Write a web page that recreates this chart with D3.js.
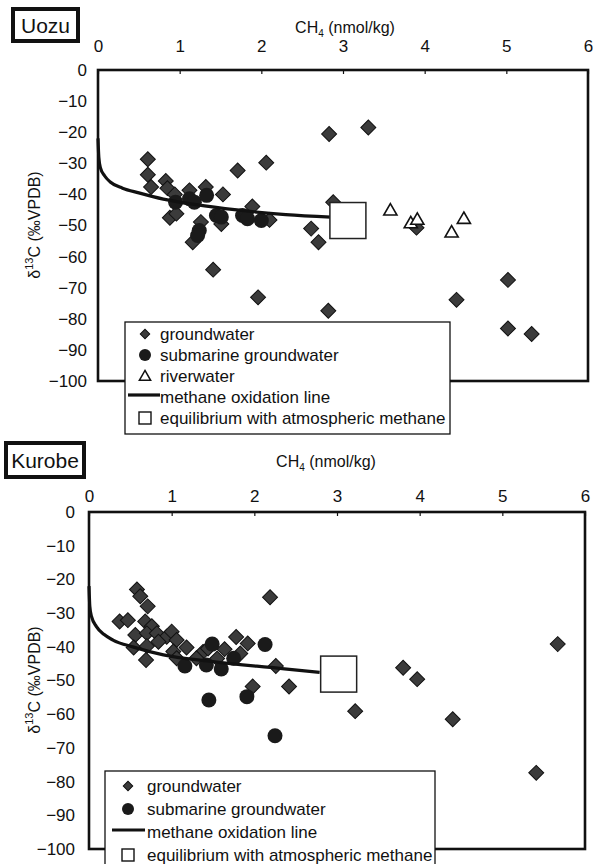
<!DOCTYPE html>
<html><head><meta charset="utf-8">
<script src="https://cdn.jsdelivr.net/npm/d3@7"></script>
<style>
body{margin:0;background:#fff;}
text{font-family:"Liberation Sans",Arial,sans-serif;fill:#111;}
</style></head>
<body>
<svg id="chart" width="593" height="864"></svg>
<script>
// ---------- DATA ----------
const xTicks = [0,1,2,3,4,5,6];
const yTicks = [0,-10,-20,-30,-40,-50,-60,-70,-80,-90,-100];

// Uozu
const uozuGroundwater = [
  [0.61,-28.7],[0.61,-33.7],[0.83,-35.7],[0.65,-37.6],[0.85,-38],[0.94,-40],[1.12,-38.7],[1.32,-37.6],
  [1.53,-40],[1.71,-32.3],[2.06,-29.8],[2.83,-20.6],[3.31,-18.5],[0.88,-47.5],[0.96,-46.2],[1.26,-48.9],
  [1.51,-49.5],[1.16,-55.4],[1.89,-43.9],[2.10,-48.2],[2.61,-51],[2.70,-55.4],[1.41,-64.2],[1.96,-73.1],
  [2.82,-77.4],[2.88,-42.5],[3.9,-50.7],[5.02,-67.5],[4.39,-73.9],[5.02,-83.1],[5.31,-84.9]
];
const uozuSubmarine = [
  [0.95,-42.5],[1.12,-41.4],[1.18,-42.5],[1.33,-40.3],[1.45,-46.8],[1.51,-47.3],[1.24,-51.6],
  [1.22,-53.2],[1.77,-46.8],[1.83,-47.8],[2.0,-48.4]
];
const uozuRiver = [[3.58,-45.4],[3.83,-49.5],[3.91,-48.4],[4.33,-52.5],[4.48,-48.1]];
const uozuOxidation = [
  [0,-22],[0.01,-28],[0.03,-31.5],[0.08,-34],[0.15,-36],[0.3,-38],[0.5,-39.5],[0.8,-41.5],[1.2,-43.3],
  [1.7,-45],[2.3,-46.5],[2.85,-47.3]
];
const uozuEquilibrium = [[3.06,-48.4]];

// Kurobe
const kurobeGroundwater = [
  [0.58,-23],[0.62,-25],[0.71,-28],[0.37,-32.5],[0.47,-32.1],[2.19,-25.3],[0.68,-32.5],[0.76,-33.9],
  [0.56,-36.5],[0.70,-36],[0.82,-36],[0.94,-37],[1.0,-35.5],[0.84,-38.5],[1.06,-38],[1.18,-40.2],
  [0.54,-40.2],[0.70,-39.8],[1.02,-41.4],[0.69,-43.9],[1.06,-43.4],[1.78,-37.1],[1.92,-39],[1.38,-41.5],
  [1.64,-40.7],[1.30,-43.4],[1.55,-43.5],[1.83,-42],[2.26,-45.7],[2.42,-51.8],[1.98,-51.8],[3.22,-59.1],
  [1.44,-40.5],[3.80,-46.2],[3.97,-49.6],[4.40,-61.5],[5.67,-39.2],[5.41,-77.4]
];
const kurobeSubmarine = [
  [1.16,-45.7],[1.42,-45.4],[1.49,-39.2],[1.6,-46.6],[1.75,-43.4],[2.13,-39.3],[1.45,-55.8],
  [1.91,-54.8],[2.25,-66.4]
];
const kurobeOxidation = [
  [0,-22],[0.01,-28],[0.03,-31],[0.09,-34],[0.18,-36.3],[0.29,-38],[0.54,-40.1],[0.9,-42.4],[1.5,-44.4],
  [2.31,-46.4],[2.79,-47.6]
];
const kurobeEquilibrium = [[3.02,-48.1]];

const legendUozu = ["groundwater","submarine groundwater","riverwater","methane oxidation line","equilibrium with atmospheric methane"];
const legendKurobe = ["groundwater","submarine groundwater","methane oxidation line","equilibrium with atmospheric methane"];

// ---------- DRAW ----------
const svg = d3.select("#chart");
const diamondFill = "#3b3b3b";
const FS = 17;

function panel(cfg){
  const g = svg.append("g");
  const x = d3.scaleLinear().domain([0,6]).range(cfg.xr);
  const y = d3.scaleLinear().domain([0,-100]).range(cfg.yr);

  // title box
  g.append("rect").attr("x",cfg.title.x).attr("y",cfg.title.y).attr("width",cfg.title.w).attr("height",cfg.title.h)
    .attr("fill","#fff").attr("stroke","#111").attr("stroke-width",4);
  g.append("text").attr("x",cfg.title.x+cfg.title.w/2).attr("y",cfg.title.y+cfg.title.h/2+7.5)
    .attr("text-anchor","middle").attr("font-size",21).text(cfg.title.text);

  // x axis title
  const xt = g.append("text").attr("x",cfg.xTitle[0]).attr("y",cfg.xTitle[1]).attr("text-anchor","middle").attr("font-size",16);
  xt.append("tspan").text("CH");
  xt.append("tspan").attr("font-size",10).attr("dy",4).text("4");
  xt.append("tspan").attr("dy",-4).text(" (nmol/kg)");

  // y axis title
  const yt = g.append("text").attr("transform",`translate(${cfg.yTitle[0]},${cfg.yTitle[1]}) rotate(-90)`)
    .attr("text-anchor","middle").attr("font-size",16);
  yt.append("tspan").text("δ");
  yt.append("tspan").attr("font-size",11).attr("dy",-7).text("13");
  yt.append("tspan").attr("dy",7).text("C (‰VPDB)");

  // axes
  const ax = g.append("g").attr("transform",`translate(0,${cfg.yr[0]})`)
    .call(d3.axisTop(x).tickValues(xTicks).tickFormat(d3.format("d")).tickSizeInner(-4).tickSizeOuter(0).tickPadding(cfg.xPad));
  ax.select(".domain").remove();
  ax.selectAll("text").attr("font-size",FS).attr("font-family","Liberation Sans, Arial, sans-serif").attr("fill","#111");
  ax.selectAll("line").attr("stroke","#111").attr("stroke-width",1.2);
  const ay = g.append("g").attr("transform",`translate(${cfg.xr[0]},0)`)
    .call(d3.axisLeft(y).tickValues(yTicks).tickFormat(d3.format("d")).tickSize(0).tickPadding(cfg.yPad));
  ay.select(".domain").remove();
  ay.selectAll("text").attr("font-size",FS).attr("font-family","Liberation Sans, Arial, sans-serif").attr("fill","#111");

  // frame
  g.append("rect").attr("x",cfg.xr[0]).attr("y",cfg.yr[0]).attr("width",cfg.xr[1]-cfg.xr[0]).attr("height",cfg.yr[1]-cfg.yr[0])
    .attr("fill","none").attr("stroke","#111").attr("stroke-width",2.6);

  // groundwater diamonds
  const dsym = d3.symbol().type(d3.symbolSquare).size(112);
  g.append("g").selectAll("path").data(cfg.gw).join("path")
    .attr("d",dsym).attr("transform",d=>`translate(${x(d[0])},${y(d[1])}) rotate(45)`)
    .attr("fill",diamondFill).attr("stroke","#111").attr("stroke-width",1);
  // submarine circles
  g.append("g").selectAll("circle").data(cfg.sub).join("circle")
    .attr("cx",d=>x(d[0])).attr("cy",d=>y(d[1])).attr("r",7.5).attr("fill","#1a1a1a");
  // oxidation line
  g.append("path").datum(cfg.ox).attr("d",d3.line().x(d=>x(d[0])).y(d=>y(d[1])).curve(d3.curveMonotoneX))
    .attr("fill","none").attr("stroke","#111").attr("stroke-width",3.2);
  // equilibrium square
  g.append("g").selectAll("rect").data(cfg.eq).join("rect")
    .attr("x",d=>x(d[0])-18).attr("y",d=>y(d[1])-18).attr("width",36).attr("height",36)
    .attr("fill","#fff").attr("stroke","#222").attr("stroke-width",1.5);
  // river triangles
  if(cfg.river){
    const tsym = d3.symbol().type(d3.symbolTriangle).size(75);
    g.append("g").selectAll("path").data(cfg.river).join("path")
      .attr("d",tsym).attr("transform",d=>`translate(${x(d[0])},${y(d[1])})`)
      .attr("fill","#fff").attr("stroke","#111").attr("stroke-width",1.6);
  }

  // legend
  const L = cfg.legend;
  const lg = g.append("g");
  lg.append("rect").attr("x",L.x).attr("y",L.y).attr("width",L.w).attr("height",L.h)
    .attr("fill","#fff").attr("stroke","#111").attr("stroke-width",1.3);
  L.items.forEach((name,i)=>{
    const cy = L.y0 + i*L.dy;
    lg.append("text").attr("x",L.tx).attr("y",cy+6).attr("font-size",FS).text(name);
    if(name==="groundwater"){
      lg.append("path").attr("d",d3.symbol().type(d3.symbolSquare).size(45)).attr("transform",`translate(${L.mx},${cy}) rotate(45)`)
        .attr("fill",diamondFill).attr("stroke","#111");
    } else if(name==="submarine groundwater"){
      lg.append("circle").attr("cx",L.mx).attr("cy",cy).attr("r",6).attr("fill","#1a1a1a");
    } else if(name==="riverwater"){
      lg.append("path").attr("d",d3.symbol().type(d3.symbolTriangle).size(55)).attr("transform",`translate(${L.mx},${cy+1})`)
        .attr("fill","#fff").attr("stroke","#111").attr("stroke-width",1.5);
    } else if(name==="methane oxidation line"){
      lg.append("line").attr("x1",L.lx[0]).attr("x2",L.lx[1]).attr("y1",cy-2).attr("y2",cy-2).attr("stroke","#111").attr("stroke-width",3.2);
    } else {
      lg.append("rect").attr("x",L.mx-6).attr("y",cy-6).attr("width",12).attr("height",12)
        .attr("fill","#fff").attr("stroke","#111").attr("stroke-width",1.4);
    }
  });
}

panel({
  xr:[98,588], yr:[70,381], xPad:18, yPad:11,
  title:{x:13,y:9,w:65,h:32,text:"Uozu"},
  xTitle:[345,33], yTitle:[40,225],
  gw:uozuGroundwater, sub:uozuSubmarine, ox:uozuOxidation, eq:uozuEquilibrium, river:uozuRiver,
  legend:{x:125,y:322,w:325,h:112,y0:334,dy:21,tx:160,mx:145,lx:[128,160],items:legendUozu}
});
panel({
  xr:[89,585], yr:[512,849], xPad:10, yPad:14,
  title:{x:6,y:443,w:78,h:34,text:"Kurobe"},
  xTitle:[326,467], yTitle:[40,680],
  gw:kurobeGroundwater, sub:kurobeSubmarine, ox:kurobeOxidation, eq:kurobeEquilibrium, river:null,
  legend:{x:105,y:771,w:330,h:95,y0:786,dy:23,tx:147,mx:128,lx:[112,145],items:legendKurobe}
});
</script>
</body></html>
